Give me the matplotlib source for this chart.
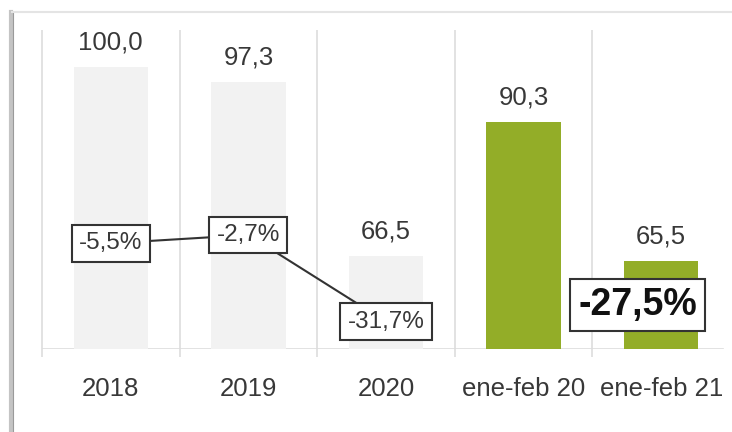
import matplotlib.pyplot as plt
from matplotlib import font_manager as fm
from matplotlib.lines import Line2D

# data
categories = ["2018", "2019", "2020", "ene-feb 20", "ene-feb 21"]
values = [100.0, 97.3, 66.5, 90.3, 65.5]          # printed labels
bar_heights = [100.0, 94.7, 33.0, 80.5, 31.2]     # drawn heights (chart is not to scale)
bar_colors = ["#f2f2f2", "#f2f2f2", "#f2f2f2", "#93ad28", "#93ad28"]
yoy_change = [-5.5, -2.7, -31.7]                  # line over the yearly bars
period_change = -27.5

try:
    fm.findfont("Liberation Sans Narrow", fallback_to_default=False)
    family = "Liberation Sans Narrow"
except ValueError:
    family = "Liberation Sans"
plt.rcParams["font.family"] = [family, "DejaVu Sans"]


def fmt(v, pct=False):
    s = f"{v:.1f}".replace(".", ",")
    return s + "%" if pct else s


fig = plt.figure(figsize=(7.32, 4.32), dpi=100)
ax = fig.add_axes([42 / 732, 83 / 432, 688 / 732, 319 / 432])
x = list(range(len(categories)))

ax.bar(x, bar_heights, width=0.54, color=bar_colors, zorder=2)
for xi, h, v in zip(x, bar_heights, values):
    ax.text(xi, h + 8.6, fmt(v), ha="center", va="center",
            fontsize=18.5, color="#383838")

ax.set_xlim(-0.5, 4.5)
ax.set_ylim(0, 113.1)

# separators and baseline
ax.vlines([-0.5, 0.5, 1.5, 2.5, 3.5], -3, 113.1, color="#dddddd", lw=1.2,
          clip_on=False, zorder=1)
ax.axhline(0, xmax=0.99, color="#dddddd", lw=1.2, zorder=1)

ax.set_xticks(x)
ax.set_xticklabels(categories, fontsize=18.5, color="#383838")
ax.tick_params(axis="x", length=0, pad=20)
ax.set_yticks([])
for s in ax.spines.values():
    s.set_visible(False)

# percentage change line on its own scale
ax2 = ax.twinx()
ax2.set_ylim(-40.85, 65.85)
ax2.plot(x[:3], yoy_change, color="#333333", lw=1.5, zorder=3)
for xi, p in zip(x[:3], yoy_change):
    ax2.text(xi, p, fmt(p, True), ha="center", va="center", fontsize=17.5,
             color="#383838", zorder=4,
             bbox=dict(boxstyle="square,pad=0.3", fc="white", ec="#333333", lw=1.5))
ax2.set_yticks([])
for s in ax2.spines.values():
    s.set_visible(False)

ax.text(3.83, 15.6, fmt(period_change, True), ha="center", va="center",
        fontsize=27, fontweight="bold", color="#111111", zorder=5,
        bbox=dict(boxstyle="square,pad=0.22", fc="white", ec="#333333", lw=1.5))

# outer frame with shadow
fig.add_artist(Line2D([11 / 732, 11 / 732], [0, 1 - 12 / 432], color="#c4c4c4", lw=3))
fig.add_artist(Line2D([13 / 732, 13 / 732], [0, 1 - 12 / 432], color="#9a9a9a", lw=0.8))
fig.add_artist(Line2D([12 / 732, 1], [1 - 12 / 432, 1 - 12 / 432], color="#e4e4e4", lw=1.5))

plt.savefig("out.png", dpi=100)
